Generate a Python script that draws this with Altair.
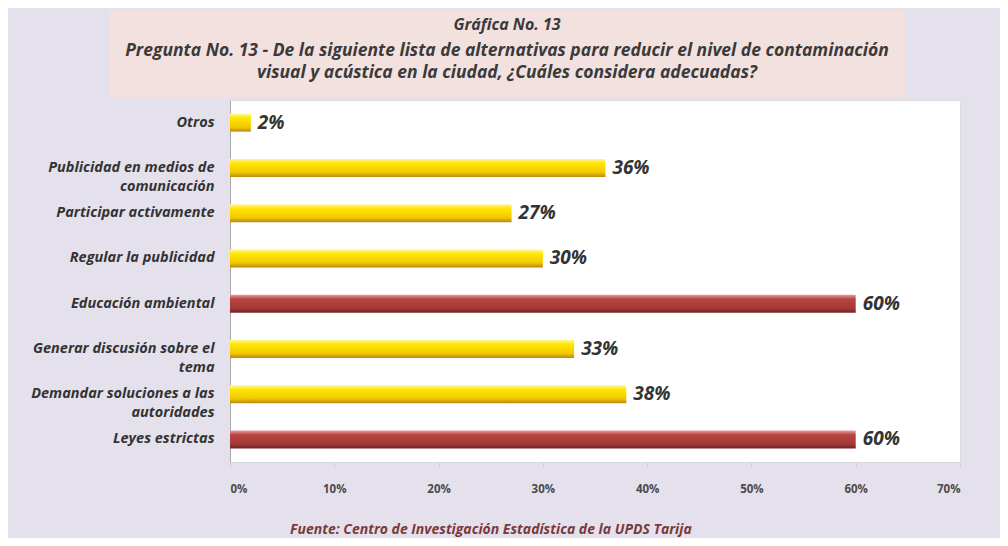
import altair as alt
import pandas as pd

# ---------------- data ----------------
categories = [
    "Otros",
    "Publicidad en medios de|comunicación",
    "Participar activamente",
    "Regular la publicidad",
    "Educación ambiental",
    "Generar discusión sobre el|tema",
    "Demandar soluciones a las|autoridades",
    "Leyes estrictas",
]
values = [0.02, 0.36, 0.27, 0.30, 0.60, 0.33, 0.38, 0.60]
highlight = [False, False, False, False, True, False, False, True]
value_labels = ["2%", "36%", "27%", "30%", "60%", "33%", "38%", "60%"]
x_ticks = [0.0, 0.1, 0.2, 0.3, 0.4, 0.5, 0.6, 0.7]

title_lines = [
    "Gráfica No. 13",
    "Pregunta No. 13 - De la siguiente lista de alternativas para reducir el nivel de contaminación",
    "visual y acústica en la ciudad, ¿Cuáles considera adecuadas?",
]
footer_text = "Fuente: Centro de Investigación Estadística de la UPDS Tarija"

df = pd.DataFrame({
    "cat": categories,
    "value": values,
    "hi": highlight,
    "lab": value_labels,
})

FONT = "Open Sans"
W, H = 730, 362

yellow_grad = alt.Gradient(
    gradient="linear", x1=0, x2=0, y1=0, y2=1,
    stops=[
        alt.GradientStop(offset=0, color="#fff6a0"),
        alt.GradientStop(offset=0.25, color="#ffe600"),
        alt.GradientStop(offset=0.75, color="#f2c800"),
        alt.GradientStop(offset=1, color="#b88a10"),
    ],
)
red_grad = alt.Gradient(
    gradient="linear", x1=0, x2=0, y1=0, y2=1,
    stops=[
        alt.GradientStop(offset=0, color="#e8a0a0"),
        alt.GradientStop(offset=0.25, color="#b8443f"),
        alt.GradientStop(offset=0.75, color="#a43a38"),
        alt.GradientStop(offset=1, color="#6e2424"),
    ],
)

x_enc = alt.X(
    "value:Q",
    scale=alt.Scale(domain=[0, 0.7], nice=False),
    axis=alt.Axis(
        values=x_ticks, format=".0%", grid=False, title=None,
        labelPadding=16, tickSize=5, tickColor="#cccccc",
        domainColor="#d8d8d8", labelFont=FONT, labelFontWeight="bold",
        labelFontSize=11.5, labelColor="#4a4a4a",
    ),
)
y_enc = alt.Y(
    "cat:N", sort=categories, title=None,
    scale=alt.Scale(paddingInner=0.0, paddingOuter=0.0),
    axis=alt.Axis(
        labelExpr="split(datum.label, '|')", ticks=False, labelPadding=16,
        labelFont=FONT, labelFontSize=14.5, labelFontStyle="italic",
        labelFontWeight="bold", labelColor="#333333", labelLineHeight=19,
        domainColor="#aaaaaa", labelLimit=225,
    ),
)

base = alt.Chart(df)
bars_y = base.transform_filter("!datum.hi").mark_bar(size=18, color=yellow_grad).encode(x=x_enc, y=y_enc)
bars_r = base.transform_filter("datum.hi").mark_bar(size=18, color=red_grad).encode(x=x_enc, y=y_enc)
labels = base.mark_text(
    align="left", baseline="middle", dx=7, font=FONT, fontSize=19,
    fontStyle="italic", fontWeight="bold", color="#333333",
).encode(x=x_enc, y=y_enc, text="lab:N")

one = pd.DataFrame({"k": [0]})
title_box = alt.Chart(one).mark_rect(color="#f3e1df").encode(
    x=alt.value(-120), x2=alt.value(675), y=alt.value(-90), y2=alt.value(-3)
)

def text_line(txt, ypos, size):
    return alt.Chart(pd.DataFrame({"t": [txt]})).mark_text(
        align="center", baseline="middle", font=FONT, fontSize=size,
        fontStyle="italic", fontWeight="bold", color="#3a3a3a",
    ).encode(x=alt.value(277), y=alt.value(ypos), text="t:N")

t1 = text_line(title_lines[0], -75, 16)
t2 = text_line(title_lines[1], -49, 17.5)
t3 = text_line(title_lines[2], -27, 17.5)

footer = alt.Chart(pd.DataFrame({"t": [footer_text]})).mark_text(
    align="left", baseline="middle", font=FONT, fontSize=14,
    fontStyle="italic", fontWeight="bold", color="#7a3a3a",
).encode(x=alt.value(60), y=alt.value(430), text="t:N")

chart = alt.layer(
    title_box, t1, t2, t3, bars_y, bars_r, labels, footer
).properties(
    width=W, height=H,
    autosize=alt.AutoSizeParams(type="none"),
    padding={"left": 222, "top": 92, "right": 40, "bottom": 76},
    background="#e5e1ec",
).configure_view(
    fill="#ffffff", stroke="#dddddd",
).configure_axis(
    labelFont=FONT,
)

chart.save("out.html", embed_options={"renderer": "svg", "actions": False})
